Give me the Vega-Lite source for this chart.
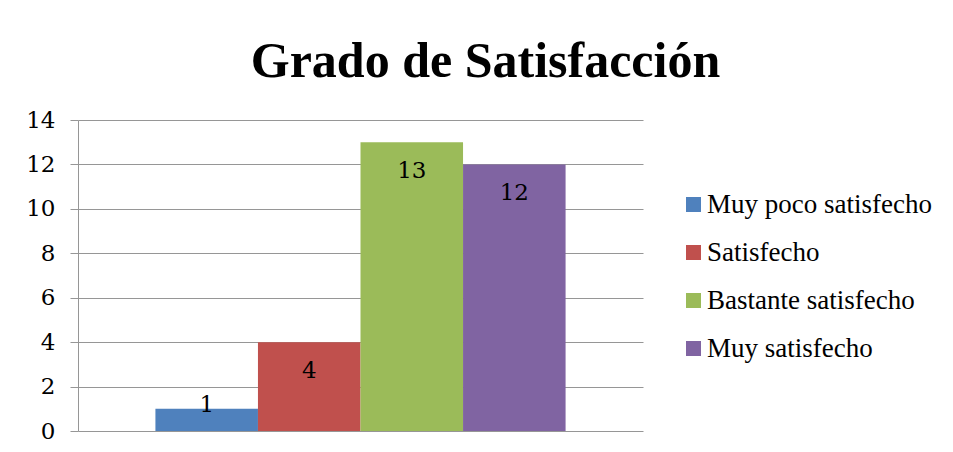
{
  "$schema": "https://vega.github.io/schema/vega-lite/v6.json",
  "autosize": "none",
  "width": 565,
  "height": 311,
  "padding": {"left": 78, "top": 120, "right": 310, "bottom": 21},
  "background": "white",
  "config": {"view": {"stroke": null}},
  "title": {
    "text": "Grado de Satisfacción",
    "font": "Liberation Serif",
    "fontSize": 50,
    "fontWeight": "bold",
    "color": "#000000",
    "anchor": "middle",
    "frame": "group",
    "dx": 125,
    "offset": 22
  },
  "data": {
    "values": [
      {"categoria": "Muy poco satisfecho", "valor": 1},
      {"categoria": "Satisfecho", "valor": 4},
      {"categoria": "Bastante satisfecho", "valor": 13},
      {"categoria": "Muy satisfecho", "valor": 12}
    ]
  },
  "encoding": {
    "x": {
      "field": "categoria",
      "type": "nominal",
      "sort": ["Muy poco satisfecho", "Satisfecho", "Bastante satisfecho", "Muy satisfecho"],
      "scale": {"paddingInner": 0, "paddingOuter": 0.755},
      "axis": null
    },
    "y": {
      "field": "valor",
      "type": "quantitative",
      "scale": {"domain": [0, 14], "nice": false},
      "axis": {
        "title": null,
        "values": [0, 2, 4, 6, 8, 10, 12, 14],
        "labelFont": "DejaVu Serif",
        "labelFontSize": 23,
        "labelColor": "#000000",
        "labelPadding": 15,
        "tickSize": 8,
        "tickColor": "#969696",
        "domainColor": "#969696",
        "gridColor": "#969696",
        "grid": true
      }
    }
  },
  "layer": [
    {
      "mark": {"type": "bar"},
      "encoding": {
        "color": {
          "field": "categoria",
          "type": "nominal",
          "sort": ["Muy poco satisfecho", "Satisfecho", "Bastante satisfecho", "Muy satisfecho"],
          "scale": {
            "domain": ["Muy poco satisfecho", "Satisfecho", "Bastante satisfecho", "Muy satisfecho"],
            "range": ["#4F81BD", "#C0504D", "#9BBB59", "#8064A2"]
          },
          "legend": {
            "title": null,
            "orient": "none",
            "legendX": 602,
            "legendY": 71,
            "padding": 0,
            "symbolType": "square",
            "symbolSize": 225,
            "symbolStrokeWidth": 0,
            "symbolOpacity": 1,
            "labelFont": "Liberation Serif",
            "labelFontSize": 27,
            "labelColor": "#000000",
            "labelOffset": 0,
            "rowPadding": 20,
            "labelLimit": 400
          }
        }
      }
    },
    {
      "transform": [{"filter": "datum.valor >= 2"}],
      "mark": {"type": "text", "font": "DejaVu Serif", "fontSize": 23, "color": "#000000", "baseline": "middle", "dy": 29},
      "encoding": {"text": {"field": "valor", "type": "quantitative"}}
    },
    {
      "transform": [{"filter": "datum.valor < 2"}],
      "mark": {"type": "text", "font": "DejaVu Serif", "fontSize": 23, "color": "#000000", "baseline": "middle", "dy": -4},
      "encoding": {"text": {"field": "valor", "type": "quantitative"}}
    }
  ]
}
